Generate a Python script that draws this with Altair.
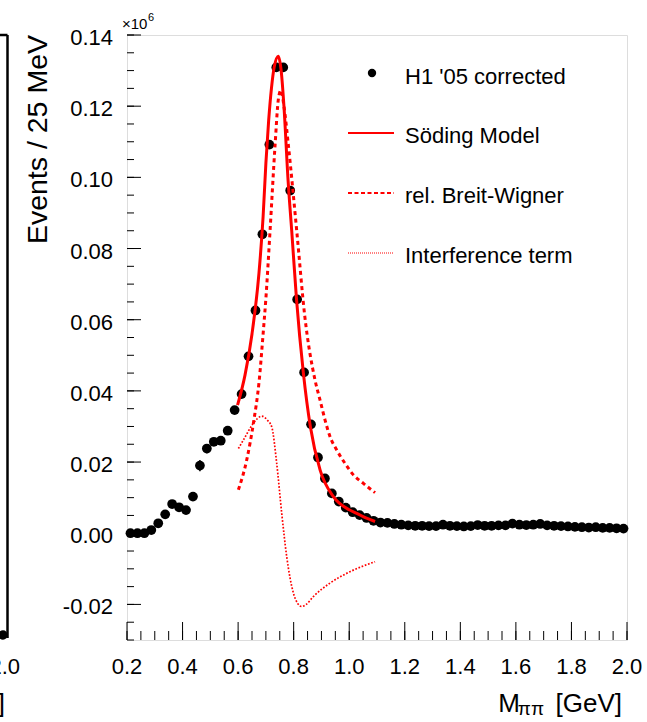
import altair as alt
import pandas as pd

# ---------------- data (values in units of 10^6 events) ----------------
mass = [0.2125, 0.2375, 0.2625, 0.2875, 0.3125, 0.3375, 0.3625, 0.3875, 0.4125, 0.4375,
        0.4625, 0.4875, 0.5125, 0.5375, 0.5625, 0.5875, 0.6125, 0.6375, 0.6625, 0.6875,
        0.7125, 0.7375, 0.7625, 0.7875, 0.8125, 0.8375, 0.8625, 0.8875, 0.9125, 0.9375,
        0.9625, 0.9875, 1.0125, 1.0375, 1.0625, 1.0875, 1.1125, 1.1375, 1.1625, 1.1875,
        1.2125, 1.2375, 1.2625, 1.2875, 1.3125, 1.3375, 1.3625, 1.3875, 1.4125, 1.4375,
        1.4625, 1.4875, 1.5125, 1.5375, 1.5625, 1.5875, 1.6125, 1.6375, 1.6625, 1.6875,
        1.7125, 1.7375, 1.7625, 1.7875, 1.8125, 1.8375, 1.8625, 1.8875, 1.9125, 1.9375,
        1.9625, 1.9875]
events = [0.0000, 0.0000, 0.0000, 0.0009, 0.0028, 0.0053, 0.0082, 0.0073, 0.0065, 0.0103,
          0.0190, 0.0238, 0.0257, 0.0260, 0.0288, 0.0346, 0.0391, 0.0497, 0.0626, 0.0840,
          0.1092, 0.1309, 0.1309, 0.0963, 0.0657, 0.0452, 0.0306, 0.0213, 0.0154, 0.0112,
          0.0089, 0.0072, 0.0059, 0.0051, 0.0043, 0.0035, 0.0030, 0.0029, 0.0026, 0.0024,
          0.0022, 0.0021, 0.0021, 0.0020, 0.0020, 0.0024, 0.0021, 0.0020, 0.0019, 0.0020,
          0.0023, 0.0021, 0.0021, 0.0022, 0.0022, 0.0027, 0.0024, 0.0023, 0.0024, 0.0026,
          0.0022, 0.0021, 0.0020, 0.0019, 0.0018, 0.0017, 0.0016, 0.0017, 0.0015, 0.0015,
          0.0014, 0.0013]
errors = [0.0003, 0.0003, 0.0003, 0.0004, 0.0005, 0.0006, 0.0007, 0.0007, 0.0007, 0.0009,
          0.0016, 0.0013, 0.0008, 0.0008, 0.0008, 0.0008, 0.0008, 0.0008, 0.0008, 0.0008,
          0.0008, 0.0008, 0.0008, 0.0008, 0.0008, 0.0007, 0.0006, 0.0005, 0.0005, 0.0004,
          0.0004, 0.0004, 0.0003, 0.0003, 0.0003, 0.0003, 0.0003, 0.0003, 0.0003, 0.0003,
          0.0003, 0.0003, 0.0003, 0.0003, 0.0003, 0.0003, 0.0003, 0.0003, 0.0003, 0.0003,
          0.0003, 0.0003, 0.0003, 0.0003, 0.0003, 0.0003, 0.0003, 0.0003, 0.0003, 0.0003,
          0.0003, 0.0003, 0.0003, 0.0003, 0.0003, 0.0003, 0.0003, 0.0003, 0.0003, 0.0003,
          0.0003, 0.0003]

soeding_m = [0.598, 0.625, 0.650, 0.675, 0.690, 0.700, 0.710, 0.720, 0.730, 0.745,
             0.755, 0.765, 0.780, 0.793, 0.810, 0.835, 0.860, 0.895, 0.943, 1.000,
             1.027, 1.060, 1.093]
soeding_v = [0.0360, 0.0445, 0.0560, 0.0730, 0.0890, 0.1040, 0.1160, 0.1250, 0.1310, 0.1340,
             0.1300, 0.1200, 0.0990, 0.0850, 0.0660, 0.0450, 0.0300, 0.0178, 0.0103, 0.0066,
             0.0056, 0.0043, 0.0033]

bw_m = [0.601, 0.631, 0.655, 0.676, 0.690, 0.700, 0.715, 0.733, 0.745, 0.754,
        0.765, 0.781, 0.811, 0.840, 0.877, 0.895, 0.913, 0.931, 0.955, 0.985,
        1.015, 1.051, 1.093]
bw_v = [0.0122, 0.0206, 0.0309, 0.0430, 0.0560, 0.0660, 0.0850, 0.1090, 0.1220, 0.1245,
        0.1200, 0.1090, 0.0850, 0.0610, 0.0430, 0.0374, 0.0318, 0.0271, 0.0234, 0.0196,
        0.0164, 0.0140, 0.0114]

int_m = [0.601, 0.619, 0.655, 0.685, 0.705, 0.721, 0.739, 0.757, 0.775, 0.799,
         0.815, 0.829, 0.845, 0.871, 0.931, 1.003, 1.093]
int_v = [0.0238, 0.0262, 0.0309, 0.0329, 0.0318, 0.0299, 0.0196, 0.0056, -0.0066, -0.0168,
         -0.0198, -0.0206, -0.0200, -0.0178, -0.0140, -0.0108, -0.0080]

legend_labels = ["H1 '05 corrected", "Söding Model", "rel. Breit-Wigner", "Interference term"]

x_major = [0.2, 0.4, 0.6, 0.8, 1.0, 1.2, 1.4, 1.6, 1.8, 2.0]
x_labels = ["0.2", "0.4", "0.6", "0.8", "1.0", "1.2", "1.4", "1.6", "1.8", "2.0"]
x_minor = [round(0.2 + 0.05 * i, 3) for i in range(37)]
y_major = [-0.02, 0.0, 0.02, 0.04, 0.06, 0.08, 0.10, 0.12, 0.14]
y_labels = ["-0.02", "0.00", "0.02", "0.04", "0.06", "0.08", "0.10", "0.12", "0.14"]
y_minor = [round(-0.03 + 0.005 * i, 4) for i in range(35)]

# ---------------- styling ----------------
FONT = "Liberation Sans"
RED = "#ff0000"
W, H = 500, 605

xs = alt.Scale(domain=[0.2, 2.0], nice=False, zero=False)
ys = alt.Scale(domain=[-0.03, 0.14], nice=False, zero=False)
one = pd.DataFrame({"k": [0]})

data = pd.DataFrame({"m": mass, "n": events, "e": errors})

points = alt.Chart(data).mark_point(filled=True, size=95, color="black", opacity=1,
                                    strokeWidth=0).encode(
    x=alt.X("m:Q", scale=xs, axis=None),
    y=alt.Y("n:Q", scale=ys, axis=None),
)
bars = alt.Chart(data).transform_calculate(
    lo="datum.n - datum.e", hi="datum.n + datum.e"
).mark_rule(color="black", strokeWidth=1.5).encode(
    x=alt.X("m:Q", scale=xs, axis=None),
    y=alt.Y("lo:Q", scale=ys, axis=None),
    y2="hi:Q",
)


def curve(ms, vs, width, dash=None):
    df = pd.DataFrame({"m": ms, "v": vs})
    kw = dict(color=RED, strokeWidth=width, interpolate="monotone")
    if dash:
        kw["strokeDash"] = dash
    return alt.Chart(df).mark_line(**kw).encode(
        x=alt.X("m:Q", scale=xs, axis=None),
        y=alt.Y("v:Q", scale=ys, axis=None),
    )


soeding = curve(soeding_m, soeding_v, 3)
bw = curve(bw_m, bw_v, 3, [4, 3.5])
interf = curve(int_m, int_v, 1.7, [1.7, 1.7])


# ticks drawn inside the frame
def xticks(vals, length):
    return alt.Chart(pd.DataFrame({"t": vals})).mark_rule(color="black", strokeWidth=1).encode(
        x=alt.X("t:Q", scale=xs, axis=None), y=alt.value(H), y2=alt.value(H - length))


def yticks(vals, length):
    return alt.Chart(pd.DataFrame({"t": vals})).mark_rule(color="black", strokeWidth=1).encode(
        y=alt.Y("t:Q", scale=ys, axis=None), x=alt.value(0), x2=alt.value(length))


ticks = [xticks(x_major, 18), xticks(x_minor, 9), yticks(y_major, 14), yticks(y_minor, 7)]

# tick labels
xlab = alt.Chart(pd.DataFrame({"t": x_major, "s": x_labels})).mark_text(
    font=FONT, fontSize=22, align="center", baseline="alphabetic", color="black").encode(
    x=alt.X("t:Q", scale=xs, axis=None), y=alt.value(H + 34), text="s:N")
ylab = alt.Chart(pd.DataFrame({"t": y_major, "s": y_labels})).mark_text(
    font=FONT, fontSize=22, align="right", baseline="middle", dy=3, color="black").encode(
    y=alt.Y("t:Q", scale=ys, axis=None), x=alt.value(-14), text="s:N")


def txt(s, x, y, size, align="left", baseline="alphabetic", angle=0):
    kw = dict(text=s, font=FONT, fontSize=size, align=align, baseline=baseline, color="black")
    if angle:
        kw["angle"] = angle
    return alt.Chart(one).mark_text(**kw).encode(x=alt.value(x), y=alt.value(y))


def hline(x1, x2, y, width, dash=None, color=RED):
    kw = dict(color=color, strokeWidth=width)
    if dash:
        kw["strokeDash"] = dash
    return alt.Chart(one).mark_rule(**kw).encode(x=alt.value(x1), x2=alt.value(x2), y=alt.value(y))


legend = [
    alt.Chart(one).mark_point(filled=True, size=70, color="black", opacity=1, strokeWidth=0).encode(
        x=alt.value(245), y=alt.value(38)),
    hline(221, 267, 98, 2),
    hline(221, 267, 158, 1.8, [4, 2.5]),
    hline(221, 267, 218, 1.2, [1, 1]),
    txt(legend_labels[0], 278, 42, 22, baseline="middle"),
    txt(legend_labels[1], 278, 101, 22, baseline="middle"),
    txt(legend_labels[2], 278, 161, 22, baseline="middle"),
    txt(legend_labels[3], 278, 221, 22, baseline="middle"),
]

titles = [
    txt("Events / 25 MeV", -80, 0, 28.5, align="right", angle=270),
    txt("[GeV]", 495, 677, 26, align="right"),
    txt("ππ", 417, 680, 19, align="right"),
    txt("M", 393, 677, 26, align="right"),
    txt("×10", -5, -6, 15),
    txt("6", 21, -14, 11),
]

# edge of the neighbouring panel, cut off at the left border
neighbour = [
    alt.Chart(one).mark_rule(color="black", strokeWidth=2.5).encode(
        x=alt.value(-119.5), y=alt.value(0), y2=alt.value(603)),
    hline(-130, -119.5, 0, 2.5, color="black"),
    alt.Chart(one).mark_point(filled=True, size=90, color="black", opacity=1, strokeWidth=0).encode(
        x=alt.value(-124), y=alt.value(600)),
    txt("2.0", -107, 639, 22, align="right"),
    txt("]", -122, 677, 26, align="right"),
]

chart = alt.layer(
    *ticks, bars, points, bw, interf, soeding, xlab, ylab, *legend, *titles, *neighbour
).properties(
    width=W, height=H,
    padding={"left": 127, "top": 35, "right": 20, "bottom": 82},
    autosize=alt.AutoSizeParams(type="none"),
).configure_view(stroke="black", strokeWidth=2.5).configure(background="white")

chart.save("out.html", embed_options={"renderer": "svg", "actions": False})
